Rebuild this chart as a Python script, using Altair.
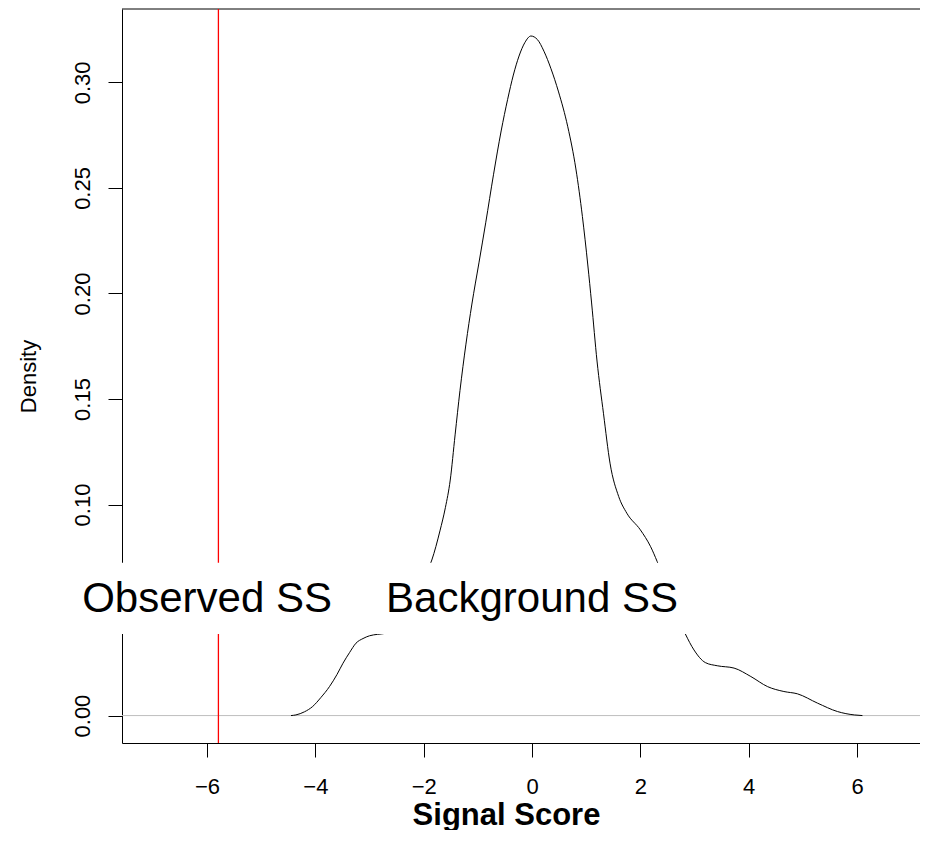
import altair as alt
import pandas as pd

# Density curve of background signal scores
score_x = [-4.45, -4.36, -4.2, -4.05, -3.9, -3.74, -3.6, -3.49, -3.37, -3.25, -3.12, -3.0,
           -2.85, -2.7, -2.55, -2.4, -2.2, -2.0, -1.85, -1.7, -1.6, -1.51, -1.42, -1.33, -1.22,
           -1.11, -0.98, -0.855, -0.71, -0.57, -0.45, -0.345, -0.24, -0.13, -0.02, 0.10, 0.22,
           0.35, 0.49, 0.66, 0.81, 0.93, 1.03, 1.10, 1.20, 1.32, 1.44, 1.60, 1.75, 2.0, 2.19,
           2.31, 2.5, 2.7, 2.83, 2.99, 3.2, 3.42, 3.73, 4.04, 4.35, 4.65, 4.9, 5.27, 5.64, 5.95, 6.1]
density = [0.0, 0.0003, 0.0018, 0.0043, 0.0085, 0.0137, 0.0195, 0.0248, 0.0298, 0.0343, 0.0365, 0.0378,
           0.0385, 0.039, 0.042, 0.047, 0.055, 0.065, 0.0737, 0.0875, 0.0985, 0.1116, 0.133, 0.154, 0.176,
           0.195, 0.2145, 0.2335, 0.2565, 0.277, 0.292, 0.3035, 0.3125, 0.319, 0.322, 0.3203, 0.3148,
           0.3065, 0.2955, 0.279, 0.259, 0.2365, 0.2135, 0.1955, 0.168, 0.143, 0.1196, 0.1038, 0.0959, 0.088, 0.080,
           0.073, 0.060, 0.046, 0.0387, 0.0311, 0.0251, 0.0236, 0.0225, 0.0185, 0.0137, 0.0114, 0.0103, 0.0059,
           0.0019, 0.0003, 0.0]

observed_ss = [-5.79]
label_text = ["Observed SS", "Background SS"]
label_x = [-6, 0]
label_y = [0.055, 0.055]
x_ticks = [-6, -4, -2, 0, 2, 4, 6]
y_ticks = [0.0, 0.05, 0.10, 0.15, 0.20, 0.25, 0.30]

# label background box (data coords)
box_x, box_x2 = -8.65, 2.95
box_y, box_y2 = 0.0387, 0.0724

X_DOMAIN = [-7.57, 7.163]
Y_DOMAIN = [-0.013, 0.3348]
FONT = "Liberation Sans"

curve_df = pd.DataFrame({"x": score_x, "y": density})
obs_df = pd.DataFrame({"x": observed_ss})
lab_df = pd.DataFrame({"label": label_text, "x": label_x, "y": label_y})
box_df = pd.DataFrame({"x": [box_x], "x2": [box_x2], "y": [box_y], "y2": [box_y2]})
zero_df = pd.DataFrame({"y": [0.0]})
top_df = pd.DataFrame({"y": [Y_DOMAIN[1]]})

xscale = alt.Scale(domain=X_DOMAIN, nice=False, zero=False)
yscale = alt.Scale(domain=Y_DOMAIN, nice=False, zero=False)

x_axis = alt.Axis(values=x_ticks, format="d", title="Signal Score",
                  orient="bottom", grid=False, tickSize=14, labelPadding=19,
                  labelFontSize=22, labelFont=FONT, labelColor="black",
                  labelBaseline="top", domainColor="black", tickColor="black",
                  titleFont=FONT, titleFontSize=31, titleFontWeight="bold",
                  titleColor="black", titleAnchor="start", titleAlign="center",
                  titleBaseline="alphabetic", titleX=384, titleY=81)
y_axis = alt.Axis(values=y_ticks, format=".2f", title="Density",
                  orient="left", grid=False, tickSize=14, labelPadding=19,
                  labelAngle=270, labelAlign="center", labelBaseline="alphabetic",
                  labelFontSize=22, labelFont=FONT, labelColor="black",
                  domainColor="black", tickColor="black",
                  titleFont=FONT, titleFontSize=22, titleFontWeight="normal",
                  titleColor="black", titleAngle=270, titleAlign="center",
                  titleBaseline="alphabetic", titleX=-87, titleY=367)

X = lambda f: alt.X(f, scale=xscale, axis=x_axis)
Y = lambda f: alt.Y(f, scale=yscale, axis=y_axis)

zero_line = alt.Chart(zero_df).mark_rule(color="#bebebe", strokeWidth=1).encode(y=Y("y:Q"))
top_border = alt.Chart(top_df).mark_rule(color="black", strokeWidth=1).encode(y=Y("y:Q"))

curve = alt.Chart(curve_df).mark_line(color="black", strokeWidth=1, interpolate="monotone").encode(
    x=X("x:Q"), y=Y("y:Q")
)

obs_line = alt.Chart(obs_df).mark_rule(strokeWidth=1.3).encode(
    x=X("x:Q"), color=alt.value("#ff0000")
)

box = alt.Chart(box_df).mark_rect(color="white", fill="white", opacity=1).encode(
    x=X("x:Q"), x2="x2:Q", y=Y("y:Q"), y2="y2:Q",
)

labels = alt.Chart(lab_df).mark_text(font=FONT, fontSize=42, color="black",
                                      align="center", baseline="middle").encode(
    x=X("x:Q"), y=Y("y:Q"), text="label:N",
)

chart = alt.layer(zero_line, top_border, curve, obs_line, box, labels).properties(
    width=798, height=734,
    padding={"left": 114, "top": 1, "right": 0, "bottom": 87},
    autosize=alt.AutoSizeParams(type="none"),
    background="white",
).configure_view(stroke=None)

chart.save("out.html", embed_options={"renderer": "svg", "actions": False})
